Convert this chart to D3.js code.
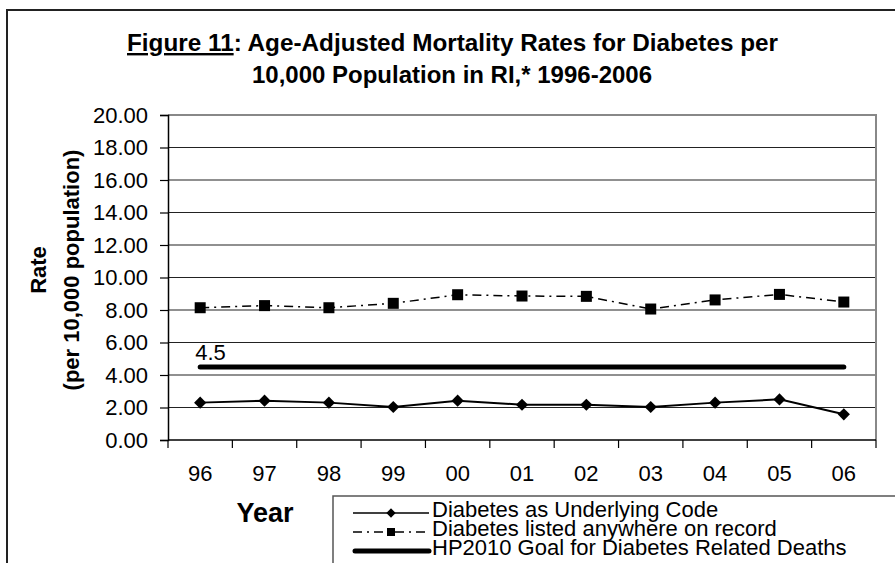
<!DOCTYPE html>
<html lang="en">
<head>
    <meta charset="UTF-8">
    <title>Figure 11</title>
    <script src="https://d3js.org/d3.v7.min.js"></script>
    <style>
        body { margin: 0; background: #fff; }
        text { font-family: "Liberation Sans", Arial, sans-serif; fill: #000; }
    </style>
</head>
<body>
    <svg id="chart" width="895" height="563"></svg>

    <script>
        // data
        var years = ["96", "97", "98", "99", "00", "01", "02", "03", "04", "05", "06"];
        var underlying = [2.30, 2.42, 2.30, 2.03, 2.42, 2.17, 2.17, 2.03, 2.30, 2.50, 1.58];
        var anywhere = [8.14, 8.27, 8.14, 8.41, 8.94, 8.86, 8.84, 8.06, 8.62, 8.96, 8.49];
        var goal = 4.5;
        var yTicks = [0, 2, 4, 6, 8, 10, 12, 14, 16, 18, 20];
        var seriesNames = ["Diabetes as Underlying Code",
                           "Diabetes listed anywhere on record",
                           "HP2010 Goal for Diabetes Related Deaths"];

        var svg = d3.select("#chart");

        // plot area
        var pLeft = 168, pRight = 876, pTop = 115, pBottom = 440;

        var x = d3.scaleBand().domain(years).range([pLeft, pRight]);
        var y = d3.scaleLinear().domain([0, 20]).range([pBottom, pTop]);
        var cx = d => x(d) + x.bandwidth() / 2;

        // outer frame (only top + left visible)
        svg.append("path")
            .attr("d", "M7,563 L7,10 L895,10")
            .attr("fill", "none")
            .attr("stroke", "#222")
            .attr("stroke-width", 2);

        // title
        var title = svg.append("text")
            .attr("x", 127)
            .attr("y", 51)
            .attr("font-size", "24px")
            .attr("font-weight", "bold")
            .attr("textLength", 651)
            .attr("lengthAdjust", "spacingAndGlyphs");
        title.append("tspan").attr("text-decoration", "underline").text("Figure 11");
        title.append("tspan").text(": Age-Adjusted Mortality Rates for Diabetes per");
        svg.append("text")
            .attr("x", 252)
            .attr("y", 83)
            .attr("font-size", "24px")
            .attr("font-weight", "bold")
            .attr("textLength", 400)
            .attr("lengthAdjust", "spacingAndGlyphs")
            .text("10,000 Population in RI,* 1996-2006");

        // gridlines
        svg.append("g")
            .selectAll("line")
            .data(yTicks.slice(1, -1))
            .join("line")
            .attr("x1", pLeft).attr("x2", pRight)
            .attr("y1", d => y(d)).attr("y2", d => y(d))
            .attr("stroke", "#222")
            .attr("stroke-width", 1.2);

        // plot border top/right
        svg.append("path")
            .attr("d", `M${pLeft},${pTop} L${pRight},${pTop} L${pRight},${pBottom}`)
            .attr("fill", "none")
            .attr("stroke", "#888")
            .attr("stroke-width", 2);

        // y axis
        var yAxis = d3.axisLeft(y).tickValues(yTicks).tickSize(8).tickPadding(12)
            .tickFormat(d3.format(".2f"));
        var gy = svg.append("g").attr("transform", `translate(${pLeft},0)`).call(yAxis);
        gy.attr("font-family", null).attr("font-size", null);
        gy.select(".domain").attr("stroke", "#000").attr("stroke-width", 1.5);
        gy.selectAll(".tick line").attr("stroke", "#000").attr("stroke-width", 1.2);
        gy.selectAll("text").attr("font-size", "22px").attr("fill", "#000");

        // x axis with ticks between categories
        var gx = svg.append("g").attr("transform", `translate(0,${pBottom})`);
        gx.append("line").attr("x1", pLeft).attr("x2", pRight)
            .attr("stroke", "#000").attr("stroke-width", 1.5);
        gx.selectAll(".xt")
            .data(years.concat(["end"]))
            .join("line")
            .attr("class", "xt")
            .attr("x1", (d, i) => i < years.length ? x(d) : pRight)
            .attr("x2", (d, i) => i < years.length ? x(d) : pRight)
            .attr("y1", 0).attr("y2", 8)
            .attr("stroke", "#000").attr("stroke-width", 1.2);
        gx.selectAll("text")
            .data(years)
            .join("text")
            .attr("x", d => cx(d))
            .attr("y", 41)
            .attr("text-anchor", "middle")
            .attr("font-size", "22px")
            .text(d => d);

        // axis titles
        svg.append("text")
            .attr("transform", "translate(46,270) rotate(-90)")
            .attr("text-anchor", "middle")
            .attr("font-size", "22px").attr("font-weight", "bold")
            .text("Rate");
        svg.append("text")
            .attr("transform", "translate(79,270) rotate(-90)")
            .attr("text-anchor", "middle")
            .attr("font-size", "22px").attr("font-weight", "bold")
            .text("(per 10,000 population)");
        svg.append("text")
            .attr("x", 265).attr("y", 522)
            .attr("text-anchor", "middle")
            .attr("font-size", "27px").attr("font-weight", "bold")
            .text("Year");

        // goal line
        svg.append("line")
            .attr("x1", cx(years[0])).attr("x2", cx(years[years.length - 1]))
            .attr("y1", y(goal)).attr("y2", y(goal))
            .attr("stroke", "#000").attr("stroke-width", 5)
            .attr("stroke-linecap", "round");
        svg.append("text")
            .attr("x", cx(years[0]) - 5).attr("y", y(goal) - 7)
            .attr("font-size", "22px")
            .text(goal);

        var line = d3.line().x((d, i) => cx(years[i])).y(d => y(d));

        // anywhere on record: dash-dot with squares
        svg.append("path")
            .datum(anywhere)
            .attr("d", line)
            .attr("fill", "none")
            .attr("stroke", "#000").attr("stroke-width", 1.5)
            .attr("stroke-dasharray", "9,5,2,5");
        svg.append("g").selectAll("rect")
            .data(anywhere)
            .join("rect")
            .attr("x", (d, i) => cx(years[i]) - 5.5)
            .attr("y", d => y(d) - 5.5)
            .attr("width", 11).attr("height", 11)
            .attr("fill", "#000");

        // underlying code: solid with diamonds
        svg.append("path")
            .datum(underlying)
            .attr("d", line)
            .attr("fill", "none")
            .attr("stroke", "#000").attr("stroke-width", 2);
        var diamond = d3.symbol().type(d3.symbolDiamond2).size(95);
        svg.append("g").selectAll("path")
            .data(underlying)
            .join("path")
            .attr("d", diamond)
            .attr("transform", (d, i) => `translate(${cx(years[i])},${y(d)})`)
            .attr("fill", "#000");

        // legend
        var lg = svg.append("g");
        lg.append("path")
            .attr("d", "M333,563 L333,496 L895,496")
            .attr("fill", "none")
            .attr("stroke", "#555")
            .attr("stroke-width", 1.5);
        var rows = [513, 532, 551];
        var sx1 = 353, sx2 = 429, smid = 391;
        lg.append("line").attr("x1", sx1).attr("x2", sx2).attr("y1", rows[0]).attr("y2", rows[0])
            .attr("stroke", "#000").attr("stroke-width", 1.5);
        lg.append("path").attr("d", d3.symbol().type(d3.symbolDiamond2).size(55))
            .attr("transform", `translate(${smid},${rows[0]})`).attr("fill", "#000");
        lg.append("line").attr("x1", sx1).attr("x2", sx2).attr("y1", rows[1]).attr("y2", rows[1])
            .attr("stroke", "#000").attr("stroke-width", 1.5).attr("stroke-dasharray", "9,5,2,5");
        lg.append("rect").attr("x", smid - 4).attr("y", rows[1] - 4).attr("width", 8).attr("height", 8)
            .attr("fill", "#000");
        lg.append("line").attr("x1", sx1 + 2).attr("x2", sx2).attr("y1", rows[2]).attr("y2", rows[2])
            .attr("stroke", "#000").attr("stroke-width", 5).attr("stroke-linecap", "round");
        lg.selectAll("text.lt")
            .data(seriesNames)
            .join("text")
            .attr("class", "lt")
            .attr("x", 432)
            .attr("y", (d, i) => rows[i] + 4)
            .attr("font-size", "22px")
            .text(d => d);
    </script>
</body>
</html>
